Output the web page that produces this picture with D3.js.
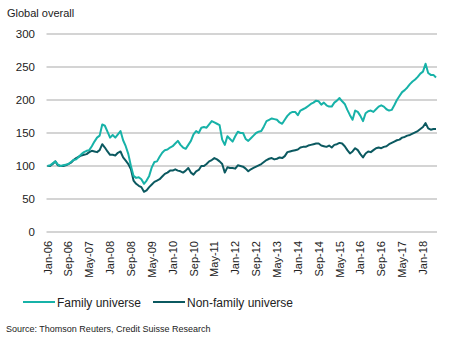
<!DOCTYPE html>
<html>
<head>
<meta charset="utf-8">
<script src="https://cdn.jsdelivr.net/npm/d3@7"></script>
<style>
	body { margin: 0; background: #fff; }
	text { font-family: "Liberation Sans", Arial, sans-serif; fill: #222; }
</style>
</head>
<body>
<svg id="chart" width="455" height="353"></svg>
<script>
// monthly index values, Jan-06 .. Jun-18
const startYear = 2006;
const family = [
	100, 101, 104, 107, 102, 100, 101, 102, 103, 106, 109, 110,
	114, 118, 121, 123, 124, 130, 137, 143, 146, 163, 161, 152,
	143, 147, 143, 148, 153, 139, 130, 118, 100, 85, 82, 83,
	80, 73, 78, 85, 98, 106, 107, 114, 120, 124, 125, 128,
	130, 134, 138, 132, 128, 126, 132, 138, 148, 153, 150, 158,
	159, 158, 163, 168, 166, 164, 162, 140, 132, 145, 141, 137,
	145, 152, 150, 150, 141, 138, 142, 146, 150, 152, 153, 160,
	168, 170, 172, 171, 170, 166, 164, 170, 176, 180, 182, 182,
	177, 184, 186, 188, 191, 194, 196, 199, 198, 193, 196, 192,
	190, 190, 196, 199, 203, 198, 194, 185, 177, 170, 184, 182,
	176, 168, 180, 183, 184, 182, 186, 190, 192, 190, 186, 184,
	185, 192, 200, 206, 212, 215, 219, 224, 228, 231, 235, 240,
	243, 255, 241, 238, 238, 234
];
const nonFamily = [
	100, 100, 103, 107, 101, 100, 100, 101, 103, 105, 109, 112,
	114, 116, 117, 118, 121, 123, 122, 121, 124, 133, 128, 122,
	117, 117, 116, 120, 122, 113, 108, 103, 95, 78, 73, 70,
	68, 61, 63, 68, 72, 76, 78, 80, 84, 88, 90, 93,
	93, 95, 93, 92, 90, 93, 97, 90, 87, 92, 94, 100,
	100, 103, 107, 109, 112, 110, 107, 103, 90, 98, 97, 97,
	96, 101, 100, 99, 96, 92, 95, 97, 99, 101, 103, 106,
	109, 111, 112, 110, 111, 113, 112, 115, 121, 122, 123, 124,
	125, 128, 129, 129, 131, 132, 133, 134, 134, 131, 130, 129,
	131, 128, 132, 133, 135, 134, 130, 124, 119, 122, 127, 124,
	118, 113, 119, 122, 121, 124, 127, 128, 127, 129, 130, 133,
	135, 137, 139, 140, 143, 144, 146, 147, 149, 151, 153, 156,
	159, 165, 157, 155, 156, 156
];
const yTicks = [0, 50, 100, 150, 200, 250, 300];
const months = ['Jan', 'Feb', 'Mar', 'Apr', 'May', 'Jun', 'Jul', 'Aug', 'Sep', 'Oct', 'Nov', 'Dec'];
const seriesNames = ['Family universe', 'Non-family universe'];
const colors = ['#17b2a8', '#0b5960'];

const svg = d3.select('#chart');

const x = d3.scaleLinear().domain([0, family.length - 1]).range([47.5, 436]);
const y = d3.scaleLinear().domain([0, 300]).range([232, 34]);

function monthLabel(i) {
	let yr = startYear + Math.floor(i / 12);
	return months[i % 12] + '-' + String(yr).slice(2);
}

svg.append('text')
	.attr('x', 7)
	.attr('y', 17)
	.style('font-size', '11px')
	.text('Global overall');

// gridlines + y labels
let yAxis = svg.append('g');
yAxis.selectAll('line')
	.data(yTicks)
	.enter().append('line')
	.attr('x1', 46.5)
	.attr('x2', 437)
	.attr('y1', (d) => y(d))
	.attr('y2', (d) => y(d))
	.attr('stroke', '#c6c6c6')
	.attr('stroke-width', 1.3);
yAxis.selectAll('text')
	.data(yTicks)
	.enter().append('text')
	.attr('x', 35)
	.attr('y', (d) => y(d) + 4)
	.attr('text-anchor', 'end')
	.style('font-size', '11.5px')
	.text((d) => d);

// x labels every 8 months
let xTicks = d3.range(0, family.length, 8);
svg.append('g').selectAll('text')
	.data(xTicks)
	.enter().append('text')
	.attr('transform', (d) => 'translate(' + (x(d) + 4) + ',241) rotate(-90)')
	.attr('text-anchor', 'end')
	.style('font-size', '11px')
	.text((d) => monthLabel(d));

const line = d3.line()
	.x((d, i) => x(i))
	.y((d) => y(d));

[nonFamily, family].forEach((s, k) => {
	svg.append('path')
		.datum(s)
		.attr('d', line)
		.attr('fill', 'none')
		.attr('stroke', colors[1 - k])
		.attr('stroke-width', 2)
		.attr('stroke-linejoin', 'round');
});

// legend
let legend = svg.append('g').selectAll('g')
	.data(seriesNames)
	.enter().append('g')
	.attr('transform', (d, i) => 'translate(' + (23 + i * 130) + ',302)');
legend.append('line')
	.attr('x1', 0)
	.attr('x2', 32)
	.attr('stroke', (d, i) => colors[i])
	.attr('stroke-width', 2);
legend.append('text')
	.attr('x', 34)
	.attr('y', 4.5)
	.style('font-size', '12px')
	.text((d) => d);

svg.append('text')
	.attr('x', 6)
	.attr('y', 332)
	.style('font-size', '9px')
	.text('Source: Thomson Reuters, Credit Suisse Research');
</script>
</body>
</html>
